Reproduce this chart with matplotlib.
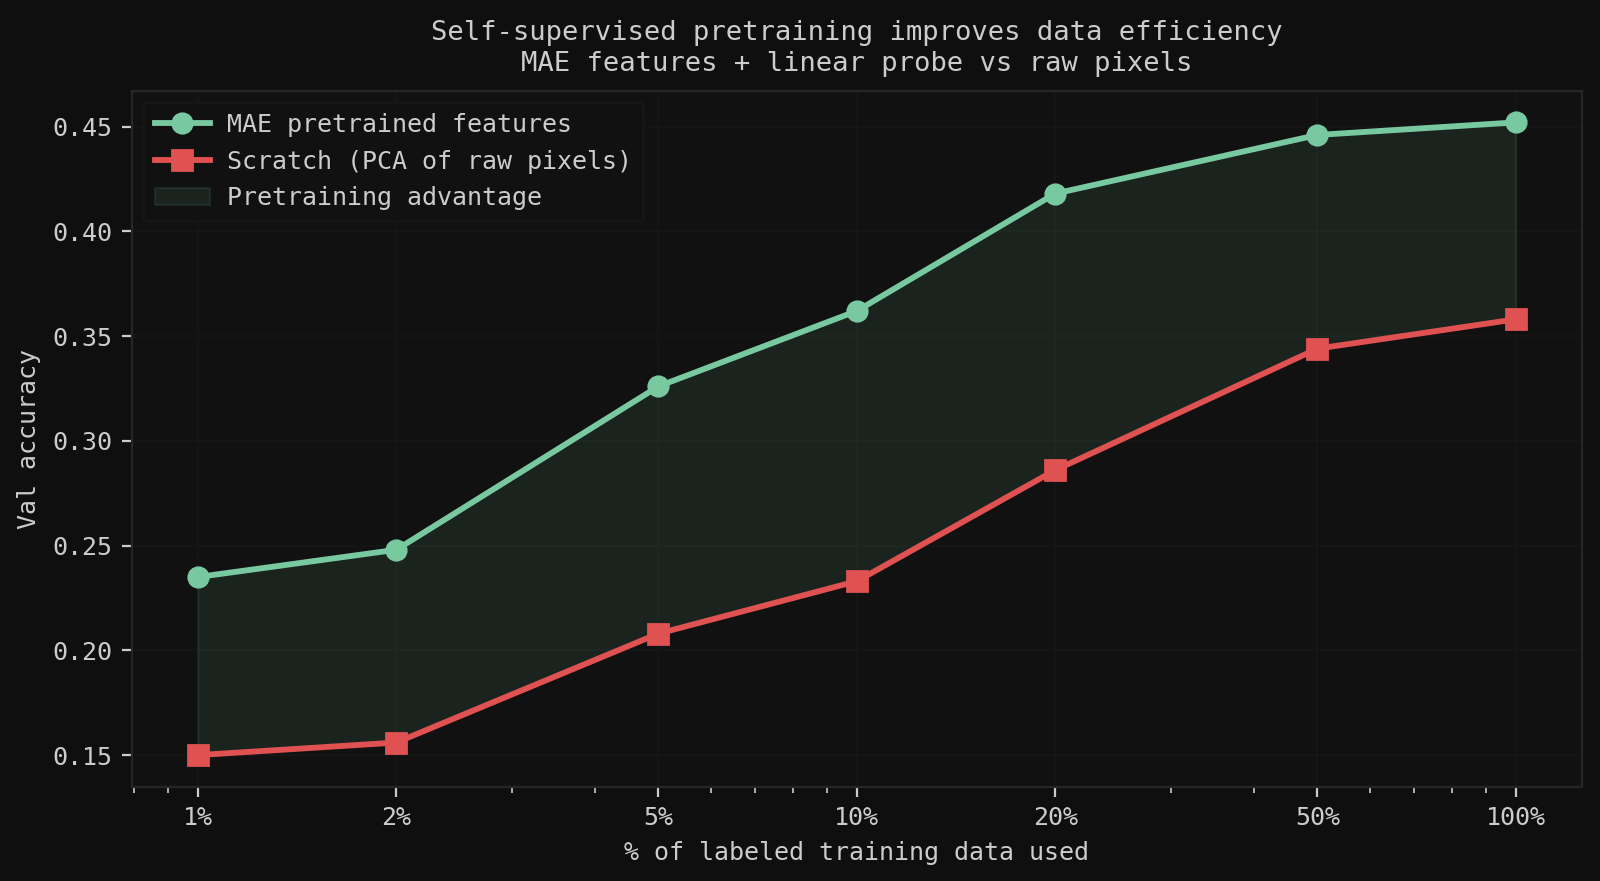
import matplotlib
matplotlib.use("Agg")
import matplotlib.pyplot as plt
from matplotlib.ticker import FixedLocator, FixedFormatter, NullFormatter, LogLocator

fractions = [1, 2, 5, 10, 20, 50, 100]
tick_labels = ["1%", "2%", "5%", "10%", "20%", "50%", "100%"]
mae_acc = [0.235, 0.248, 0.326, 0.362, 0.418, 0.446, 0.452]
scratch_acc = [0.150, 0.156, 0.208, 0.233, 0.286, 0.344, 0.358]

GREEN = "#78c9a0"
RED = "#e05252"
TEXT = "#cccccc"
FIG_BG = "#0f0f0f"
AX_BG = "#111111"

plt.rcParams["font.family"] = ["DejaVu Sans Mono", "DejaVu Sans"]

fig = plt.figure(figsize=(8, 4.405), dpi=200, facecolor=FIG_BG)
ax = fig.add_axes([0.0825, 0.107, 0.906, 0.790])
ax.set_facecolor(AX_BG)

ax.plot(fractions, mae_acc, color=GREEN, lw=2.1, marker="o", ms=7,
        label="MAE pretrained features", zorder=3)
ax.plot(fractions, scratch_acc, color=RED, lw=2.1, marker="s", ms=7,
        label="Scratch (PCA of raw pixels)", zorder=3)
ax.fill_between(fractions, scratch_acc, mae_acc, color=GREEN, alpha=0.1,
                label="Pretraining advantage", linewidth=0.8)

ax.set_xscale("log")
ax.xaxis.set_major_locator(FixedLocator(fractions))
ax.xaxis.set_major_formatter(FixedFormatter(tick_labels))
ax.xaxis.set_minor_locator(LogLocator(base=10, subs=range(2, 10)))
ax.xaxis.set_minor_formatter(NullFormatter())

ax.grid(True, which="major", color="#151515", lw=0.8)
ax.set_axisbelow(True)

for s in ax.spines.values():
    s.set_color("#262626")
    s.set_linewidth(0.8)

ax.tick_params(colors=TEXT, labelsize=9, which="major", length=3.5, width=0.8)
ax.tick_params(colors=TEXT, which="minor", length=2, width=0.6)

ax.set_xlabel("% of labeled training data used", color=TEXT, fontsize=9)
ax.set_ylabel("Val accuracy", color=TEXT, fontsize=9)
ax.set_title("Self-supervised pretraining improves data efficiency\nMAE features + linear probe vs raw pixels",
             color=TEXT, fontsize=9.8, linespacing=1.28, pad=7)

leg = ax.legend(loc="upper left", fontsize=9, facecolor=AX_BG, edgecolor="#161616",
                labelcolor=TEXT, framealpha=1.0, handlelength=2.2,
                handletextpad=0.7, borderpad=0.45, borderaxespad=0.45)

fig.savefig("out.png", dpi=200, facecolor=FIG_BG)
